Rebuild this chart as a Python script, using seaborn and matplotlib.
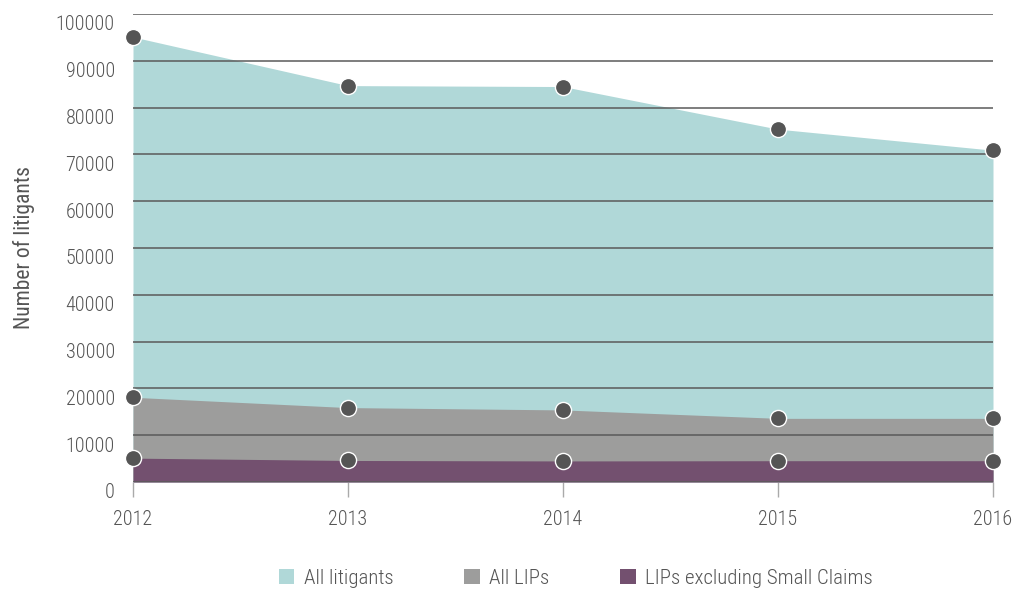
import pandas as pd
import seaborn as sns
import matplotlib.pyplot as plt
from matplotlib.patches import Patch
from matplotlib.transforms import ScaledTranslation

years = [2012, 2013, 2014, 2015, 2016]
all_litigants = [95100, 84700, 84500, 75400, 70900]
all_lips = [18100, 15900, 15400, 13600, 13600]
lips_excl_small = [5100, 4600, 4500, 4550, 4550]

series = ["All litigants", "All LIPs", "LIPs excluding Small Claims"]
colors = ["#b0d8d8", "#9d9d9c", "#73506f"]

frame = pd.DataFrame({
    "Year": years * 3,
    "Litigants": all_litigants + all_lips + lips_excl_small,
    "Series": [s for s in series for _ in years],
})

sns.set_theme(style="white")
plt.rcParams["font.family"] = ["Roboto Condensed", "Roboto", "DejaVu Sans"]
plt.rcParams["font.weight"] = "light"
text_color = "#555555"

fig = plt.figure(figsize=(10.18, 5.92), dpi=100)
ax = fig.add_axes([133 / 1018, 1 - 482 / 592, (993 - 133) / 1018, (482 - 14) / 592])

# overlapping areas, largest first
for vals, col in zip([all_litigants, all_lips, lips_excl_small], colors):
    ax.fill_between(years, 0, vals, color=col, lw=0, zorder=1)

for yv in range(10000, 100001, 10000):
    ax.axhline(yv, color="#5a5a5a", lw=1.1, zorder=2)
ax.axhline(0, color="#5a5a5a", lw=1.1, zorder=2)

sns.scatterplot(data=frame, x="Year", y="Litigants", ax=ax, color="#555555",
                s=135, edgecolor="white", linewidth=1.0, zorder=5, legend=False, clip_on=False)

ax.set_xlim(2012, 2016)
ax.set_ylim(0, 100000)
ax.set_xticks(years)
ax.set_xticklabels([str(y) for y in years])
ax.set_yticks(range(0, 100001, 10000))
ax.set_yticklabels([str(v) for v in range(0, 100001, 10000)])
ax.tick_params(axis="x", length=11, width=1, color="#aaaaaa", pad=9.5,
               labelsize=14.5, labelcolor=text_color, bottom=True)
ax.tick_params(axis="y", length=0, pad=13, labelsize=14.5, labelcolor=text_color)
# y labels sit a little below their gridlines in the original
shift = ScaledTranslation(0, -9 / 100, fig.dpi_scale_trans)
for lab in ax.get_yticklabels():
    lab.set_transform(lab.get_transform() + shift)
for sp in ax.spines.values():
    sp.set_visible(False)
ax.set_xlabel("")
ax.set_ylabel("Number of litigants", fontsize=15.5, color=text_color, labelpad=15)

handles = [Patch(facecolor=c, edgecolor="none") for c in colors]
fig.legend(handles, series, loc="center", bbox_to_anchor=(576 / 1018, 1 - 578 / 592),
           ncol=3, frameon=False, fontsize=15, labelcolor=text_color,
           handlelength=0.75, handleheight=0.75, handletextpad=0.45, columnspacing=3.4)

fig.savefig("out.png", dpi=100)
